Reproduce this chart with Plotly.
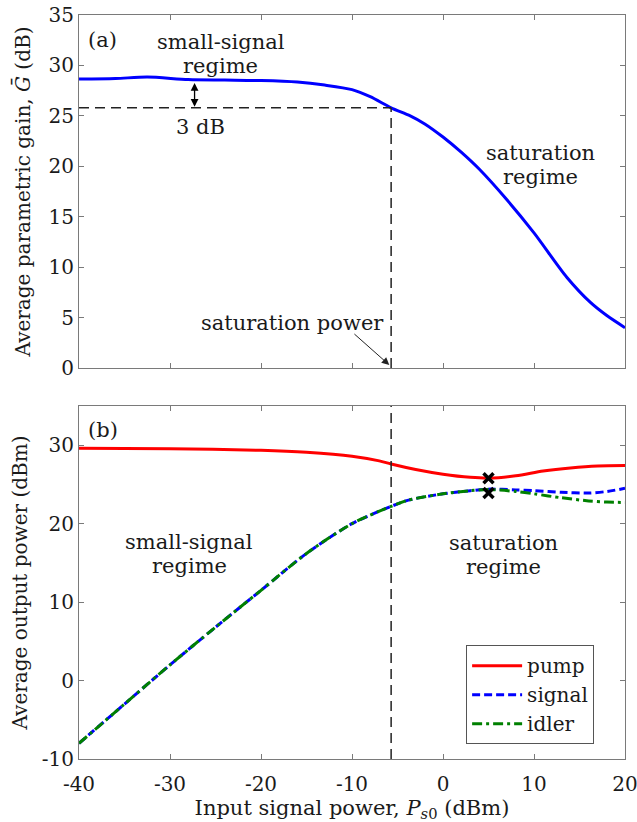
import plotly.graph_objects as go

# ---------------- data ----------------
# panel (a): average parametric gain vs input signal power
gain_x = [-40, -36, -32.5, -28, -24, -20, -16, -13, -10, -8, -5.7, -3.6, -2, 0, 2, 4, 7, 10, 13.6, 16.2, 18, 20]
gain_db = [28.65, 28.7, 28.85, 28.6, 28.55, 28.5, 28.35, 28.05, 27.6, 26.9, 25.8, 25.0, 24.2, 22.9, 21.4, 19.7, 16.7, 13.4, 9.0, 6.5, 5.2, 4.0]

# panel (b): average output powers
pump_x = [-40, -30, -20, -15, -10, -7, -5.7, -3, 0, 3, 5, 8, 11, 14, 17, 20]
pump_dbm = [29.6, 29.55, 29.35, 29.1, 28.6, 28.0, 27.6, 26.9, 26.3, 25.9, 25.8, 26.1, 26.7, 27.1, 27.35, 27.4]

signal_x = [-40, -35, -30, -25, -20, -15, -10, -5.7, -3.8, 0, 3, 5, 8, 10, 13, 16, 18, 20]
signal_dbm = [-8.0, -3.0, 2.0, 6.8, 11.5, 16.2, 20.0, 22.2, 23.0, 23.8, 24.2, 24.4, 24.3, 24.2, 24.0, 23.9, 24.1, 24.5]

idler_x = [-40, -35, -30, -25, -20, -15, -10, -5.7, -3.8, 0, 3, 5, 8, 10, 13, 16, 18, 20]
idler_dbm = [-8.0, -3.0, 2.0, 6.8, 11.5, 16.2, 20.0, 22.2, 23.0, 23.8, 24.2, 24.35, 24.1, 23.8, 23.3, 22.9, 22.75, 22.7]

marker_x = [5, 5]
marker_y = [25.8, 23.9]

sat_power = -5.7   # dBm
sat_gain = 25.8    # dB
small_gain = 28.5  # dB

x_ticks = [-40, -30, -20, -10, 0, 10, 20]
x_ticktext = ["-40", "-30", "-20", "-10", "0", "10", "20"]
ya_ticks = [0, 5, 10, 15, 20, 25, 30, 35]
yb_ticks = [-10, 0, 10, 20, 30]
yb_ticktext = ["-10", "0", "10", "20", "30"]

# ---------------- figure ----------------
FONT = "DejaVu Serif"
TXT = "#1a1a1a"
AX = "#7a7a7a"
ANN = 21

fig = go.Figure()

fig.add_trace(go.Scatter(x=gain_x, y=gain_db, mode="lines", xaxis="x", yaxis="y",
                         line=dict(color="#0000ff", width=3, shape="spline", smoothing=0.8),
                         showlegend=False, name="gain"))

fig.add_trace(go.Scatter(x=pump_x, y=pump_dbm, mode="lines", xaxis="x2", yaxis="y2",
                         line=dict(color="#ff0000", width=3, shape="spline", smoothing=0.8),
                         name="pump"))
fig.add_trace(go.Scatter(x=signal_x, y=signal_dbm, mode="lines", xaxis="x2", yaxis="y2",
                         line=dict(color="#0000ff", width=3, dash="8px,4px", shape="spline", smoothing=0.8),
                         name="signal"))
fig.add_trace(go.Scatter(x=idler_x, y=idler_dbm, mode="lines", xaxis="x2", yaxis="y2",
                         line=dict(color="#008000", width=3, dash="10px,4px,3px,4px", shape="spline", smoothing=0.8),
                         name="idler"))
fig.add_trace(go.Scatter(x=marker_x, y=marker_y, mode="markers", xaxis="x2", yaxis="y2",
                         marker=dict(symbol="x-thin", size=10, line=dict(color="black", width=3.5)),
                         showlegend=False, name="max"))

axis_common = dict(showline=True, linecolor=AX, linewidth=1, mirror="ticks",
                   ticks="inside", ticklen=5, tickcolor=AX, tickwidth=1,
                   showgrid=False, zeroline=False, automargin=False,
                   ticklabeloverflow="allow",
                   tickfont=dict(family=FONT, size=20, color=TXT))

fig.update_layout(
    width=637, height=822,
    margin=dict(l=79, r=12, t=15, b=63, autoexpand=False),
    paper_bgcolor="white", plot_bgcolor="white",
    font=dict(family=FONT, size=20, color=TXT),
    xaxis=dict(domain=[0, 1], anchor="y", range=[-40, 20], tickvals=x_ticks,
               showticklabels=False, **axis_common),
    yaxis=dict(domain=[0.5255, 1], anchor="x", range=[0, 35], tickvals=ya_ticks,
               title=dict(text="Average parametric gain, <i>Ḡ</i> (dB)", standoff=12,
                          font=dict(family=FONT, size=20, color=TXT)),
               **axis_common),
    xaxis2=dict(domain=[0, 1], anchor="y2", range=[-40, 20], tickvals=x_ticks, ticktext=x_ticktext,
                ticklabelstandoff=7,
                title=dict(text="Input signal power, <i>P</i><sub><i>s</i>0</sub> (dBm)", standoff=2,
                           font=dict(family=FONT, size=21, color=TXT)),
                **axis_common),
    yaxis2=dict(domain=[0, 0.4745], anchor="x2", range=[-10, 35], tickvals=yb_ticks, ticktext=yb_ticktext,
                title=dict(text="Average output power (dBm)", standoff=8,
                           font=dict(family=FONT, size=20, color=TXT)),
                **axis_common),
    legend=dict(x=0.709, y=0.153, xanchor="left", yanchor="top",
                bgcolor="white", bordercolor="#555555", borderwidth=1,
                font=dict(family=FONT, size=20, color=TXT), itemwidth=50,
                tracegroupgap=0),
)

# dashed guide lines
dash_line = dict(color="#222222", width=1.5, dash="10px,6px")
fig.add_shape(type="line", xref="x", yref="y", x0=-40, x1=sat_power, y0=sat_gain, y1=sat_gain, line=dash_line)
fig.add_shape(type="line", xref="x", yref="y", x0=sat_power, x1=sat_power, y0=0, y1=sat_gain, line=dash_line)
fig.add_shape(type="line", xref="x2", yref="y2", x0=sat_power, x1=sat_power, y0=-10, y1=35, line=dash_line)

def txt(x, y, s, xref="x", yref="y", size=ANN):
    fig.add_annotation(x=x, y=y, xref=xref, yref=yref, text=s, showarrow=False,
                       font=dict(family=FONT, size=size, color=TXT), xanchor="center", yanchor="middle")

# panel (a) texts
txt(-37.4, 32.5, "(a)")
txt(-24.4, 32.3, "small-signal")
txt(-24.4, 29.95, "regime")
txt(-26.7, 23.9, "3 dB")
txt(10.7, 21.3, "saturation")
txt(10.7, 18.95, "regime")
txt(-16.5, 4.5, "saturation power")

# 3 dB double arrow
fig.add_annotation(x=-27.3, y=sat_gain + 0.1, ax=-27.3, ay=small_gain - 0.1, xref="x", yref="y",
                   axref="x", ayref="y", text="", showarrow=True, arrowside="end+start",
                   arrowhead=2, arrowsize=1.2, arrowwidth=1.3, arrowcolor="black")
# saturation power arrow
fig.add_annotation(x=sat_power - 0.2, y=0.3, ax=-9.9, ay=3.5, xref="x", yref="y",
                   axref="x", ayref="y", text="", showarrow=True,
                   arrowhead=2, arrowsize=1.5, arrowwidth=1, arrowcolor="#222222")

# panel (b) texts
txt(-37.4, 31.9, "(b)", "x2", "y2")
txt(-27.9, 17.6, "small-signal", "x2", "y2")
txt(-27.9, 14.6, "regime", "x2", "y2")
txt(6.6, 17.5, "saturation", "x2", "y2")
txt(6.6, 14.5, "regime", "x2", "y2")

fig.write_html("out.html")
